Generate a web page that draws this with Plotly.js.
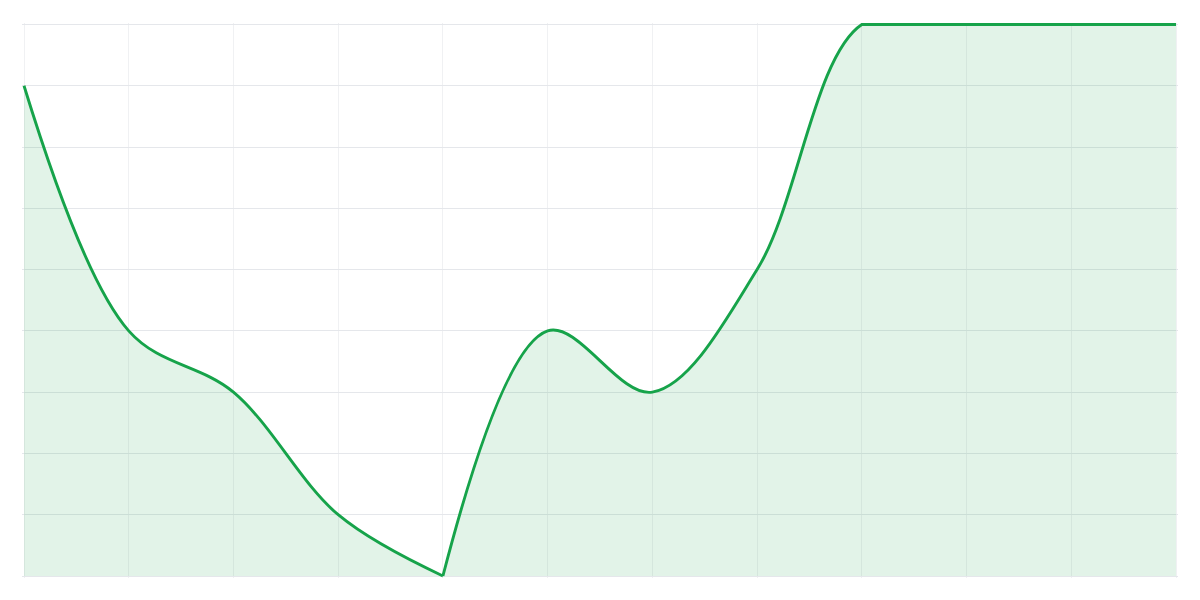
<!DOCTYPE html>
<html>
<head>
<meta charset="utf-8">
<script src="https://cdn.plot.ly/plotly-3.0.1.min.js"></script>
<style>
  html, body { margin: 0; padding: 0; background: #ffffff; }
  #chart { width: 1200px; height: 600px; }
</style>
</head>
<body>
<div id="chart"></div>
<script>
// one point per vertical grid line
var steps = [0, 1, 2, 3, 4, 5, 6, 7, 8, 9, 10, 11];
var values = [8, 4, 3, 1, 0, 4, 3, 5, 9, 9, 9, 9];

// the curve is cut where it sits on the bottom of the chart, so the
// spline does not dip below it; the run along the top is drawn again
// flat, on top of the curve, which would otherwise swing past the edge
var breaks = [0, 4, 11];
var topRun = [8, 11];

var lineColor = '#16a34a';
var fillColor = 'rgba(22,163,74,0.125)';
var lineWidth = 2.9;

var data = [];
for (var b = 0; b < breaks.length - 1; b++) {
    var lo = breaks[b], hi = breaks[b + 1];
    data.push({
        type: 'scatter',
        mode: 'lines',
        x: steps.slice(lo, hi + 1),
        y: values.slice(lo, hi + 1),
        line: { color: lineColor, width: lineWidth, shape: 'spline', smoothing: 1 },
        fill: 'tozeroy',
        fillcolor: fillColor,
        hoverinfo: 'skip',
        showlegend: false
    });
}
data.push({
    type: 'scatter',
    mode: 'lines',
    x: steps.slice(topRun[0], topRun[1] + 1),
    y: values.slice(topRun[0], topRun[1] + 1),
    line: { color: lineColor, width: lineWidth },
    hoverinfo: 'skip',
    showlegend: false
});

// a little slack round the grid so the line is not cut at the edges
var xpad = 2 / (1152 / 11);
var ybot = 2 / (552 / 9);
var ytop = (lineWidth / 2) / (552 / 9);

var layout = {
    width: 1200,
    height: 600,
    margin: { l: 22, r: 22, t: 24 - lineWidth / 2, b: 22 },
    paper_bgcolor: '#ffffff',
    plot_bgcolor: '#ffffff',
    showlegend: false,
    hovermode: false,
    xaxis: {
        range: [-xpad, 11 + xpad],
        tick0: 0,
        dtick: 1,
        showgrid: true,
        gridcolor: '#f0f1f3',
        gridwidth: 1,
        zeroline: false,
        showline: false,
        ticks: '',
        showticklabels: false,
        fixedrange: true
    },
    yaxis: {
        range: [-ybot, 9 + ytop],
        tick0: 0,
        dtick: 1,
        showgrid: true,
        gridcolor: '#e5e7eb',
        gridwidth: 1,
        zeroline: false,
        showline: false,
        ticks: '',
        showticklabels: false,
        fixedrange: true
    }
};

Plotly.newPlot('chart', data, layout, { displayModeBar: false, staticPlot: true });
</script>
</body>
</html>
